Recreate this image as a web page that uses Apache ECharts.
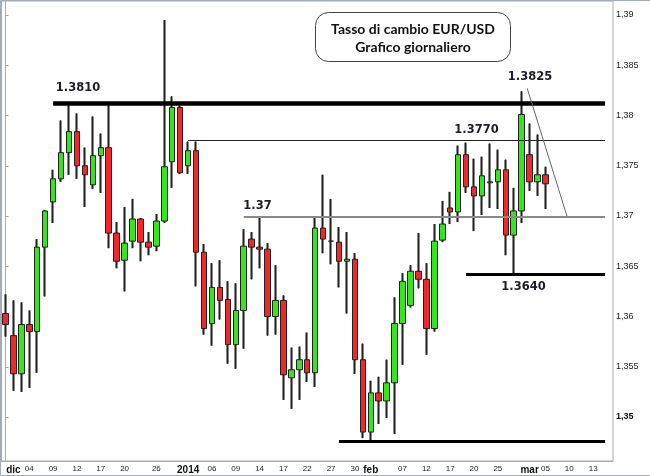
<!DOCTYPE html>
<html>
<head>
<meta charset="utf-8">
<script src="https://cdn.jsdelivr.net/npm/echarts@6/dist/echarts.min.js"></script>
<style>
  html, body { margin: 0; padding: 0; background: #fff; }
  #chart { width: 650px; height: 476px; }
</style>
</head>
<body>
<div id="chart"></div>
<script>
// giorni di contrattazione (forex: tutti i giorni feriali)
const dates = [
  '2013-11-29',
  '2013-12-02', '2013-12-03', '2013-12-04', '2013-12-05', '2013-12-06',
  '2013-12-09', '2013-12-10', '2013-12-11', '2013-12-12', '2013-12-13',
  '2013-12-16', '2013-12-17', '2013-12-18', '2013-12-19', '2013-12-20',
  '2013-12-23', '2013-12-24', '2013-12-25', '2013-12-26', '2013-12-27',
  '2013-12-30', '2013-12-31', '2014-01-01', '2014-01-02', '2014-01-03',
  '2014-01-06', '2014-01-07', '2014-01-08', '2014-01-09', '2014-01-10',
  '2014-01-13', '2014-01-14', '2014-01-15', '2014-01-16', '2014-01-17',
  '2014-01-20', '2014-01-21', '2014-01-22', '2014-01-23', '2014-01-24',
  '2014-01-27', '2014-01-28', '2014-01-29', '2014-01-30', '2014-01-31',
  '2014-02-03', '2014-02-04', '2014-02-05', '2014-02-06', '2014-02-07',
  '2014-02-10', '2014-02-11', '2014-02-12', '2014-02-13', '2014-02-14',
  '2014-02-17', '2014-02-18', '2014-02-19', '2014-02-20', '2014-02-21',
  '2014-02-24', '2014-02-25', '2014-02-26', '2014-02-27', '2014-02-28',
  '2014-03-03', '2014-03-04', '2014-03-05', '2014-03-06', '2014-03-07',
  '2014-03-10', '2014-03-11', '2014-03-12', '2014-03-13', '2014-03-14',
  '2014-03-17'
]

const open = [
  1.3603, 1.3581, 1.3543, 1.3592, 1.3585, 1.3669, 1.3714, 1.3737, 1.3763, 1.3784,
  1.3750, 1.3731, 1.3760, 1.3768, 1.3683, 1.3656, 1.3675, 1.3697, 1.3674, 1.3670,
  1.3695, 1.3754, 1.3808, 1.3750, 1.3765, 1.3664, 1.3593, 1.3629, 1.3617, 1.3572,
  1.3606, 1.3677, 1.3669, 1.3667, 1.3600, 1.3616, 1.3539, 1.3547, 1.3557, 1.3544,
  1.3688, 1.3675, 1.3674, 1.3655, 1.3657, 1.3557, 1.3485, 1.3524, 1.3516, 1.3534,
  1.3593, 1.3611, 1.3645, 1.3637, 1.3588, 1.3676, 1.3708, 1.3704, 1.3761, 1.3729,
  1.3720, 1.3733, 1.3734, 1.3746, 1.3681, 1.3705, 1.3761, 1.3734, 1.3741
]
const close = [
  1.3592, 1.3543, 1.3592, 1.3585, 1.3669, 1.3705, 1.3737, 1.3763, 1.3784, 1.3750,
  1.3741, 1.3760, 1.3768, 1.3683, 1.3655, 1.3673, 1.3697, 1.3674, 1.3669, 1.3695,
  1.3749, 1.3808, 1.3743, 1.3765, 1.3664, 1.3588, 1.3629, 1.3616, 1.3572, 1.3606,
  1.3670, 1.3669, 1.3667, 1.3600, 1.3616, 1.3542, 1.3547, 1.3557, 1.3544, 1.3688,
  1.3677, 1.3675, 1.3655, 1.3657, 1.3557, 1.3485, 1.3524, 1.3516, 1.3534, 1.3593,
  1.3635, 1.3645, 1.3637, 1.3588, 1.3675, 1.3692, 1.3704, 1.3761, 1.3729, 1.3720,
  1.3740, 1.3734, 1.3746, 1.3681, 1.3705, 1.3801, 1.3734, 1.3741, 1.3732
]
const low = [
  1.3580, 1.3526, 1.3525, 1.3529, 1.3544, 1.3620, 1.3693, 1.3734, 1.3741, 1.3737,
  1.3709, 1.3727, 1.3723, 1.3668, 1.3648, 1.3625, 1.3668, 1.3655, 1.3661, 1.3665,
  1.3693, 1.3728, 1.3742, 1.3742, 1.3630, 1.3582, 1.3571, 1.3597, 1.3553, 1.3548,
  1.3568, 1.3637, 1.3648, 1.3581, 1.3582, 1.3517, 1.3508, 1.3517, 1.3535, 1.3530,
  1.3663, 1.3652, 1.3629, 1.3603, 1.3543, 1.3479, 1.3476, 1.3493, 1.3499, 1.3483,
  1.3552, 1.3609, 1.3628, 1.3562, 1.3585, 1.3674, 1.3692, 1.3694, 1.3723, 1.3685,
  1.3701, 1.3708, 1.3707, 1.3661, 1.3642, 1.3693, 1.3725, 1.3720, 1.3707
]
const high = [
  1.3622, 1.3616, 1.3614, 1.3606, 1.3677, 1.3706, 1.3746, 1.3795, 1.3810, 1.3802,
  1.3768, 1.3799, 1.3782, 1.3810, 1.3694, 1.3709, 1.3717, 1.3698, 1.3684, 1.3702,
  1.3895, 1.3819, 1.3810, 1.3774, 1.3774, 1.3672, 1.3653, 1.3656, 1.3635, 1.3633,
  1.3687, 1.3684, 1.3698, 1.3673, 1.3651, 1.3621, 1.3569, 1.3570, 1.3584, 1.3698,
  1.3741, 1.3717, 1.3689, 1.3684, 1.3663, 1.3573, 1.3536, 1.3540, 1.3557, 1.3619,
  1.3643, 1.3651, 1.3683, 1.3653, 1.3692, 1.3715, 1.3724, 1.3770, 1.3773, 1.3757,
  1.3759, 1.3772, 1.3766, 1.3756, 1.3728, 1.3824, 1.3792, 1.3781, 1.3749
]

// etichette dell'asse delle date
const tickLabels = {
  '2013-12-02': 'dic', '2013-12-04': '04', '2013-12-09': '09', '2013-12-12': '12',
  '2013-12-17': '17', '2013-12-20': '20', '2013-12-26': '26', '2014-01-01': '2014',
  '2014-01-06': '06', '2014-01-09': '09', '2014-01-14': '14', '2014-01-17': '17',
  '2014-01-22': '22', '2014-01-27': '27', '2014-01-30': '30', '2014-02-03': 'feb',
  '2014-02-07': '07', '2014-02-12': '12', '2014-02-17': '17', '2014-02-20': '20',
  '2014-02-25': '25', '2014-03-03': 'mar', '2014-03-05': '05', '2014-03-10': '10',
  '2014-03-13': '13'
}
const boldLabels = ['dic', '2014', 'feb', 'mar']

// livelli disegnati sul grafico (supporti / resistenze)
const levelValue = [1.3812, 1.3775, 1.3699, 1.3642, 1.3476]
const levelFrom = ['2013-12-09', '2014-01-01', '2014-01-10', '2014-02-19', '2014-01-28']
// trendline ribassista dal massimo
const trendFrom = [65.7, 1.3827]
const trendTo = [70.7, 1.3700]

const GREEN = '#35e61c'
const RED = '#f3262a'
const FRAME = '#a4acb4'

const ohlc = open.map((o, i) => [o, close[i], low[i], high[i]])

const levelStyles = [
  { color: '#000', width: 4.5 },
  { color: '#222', width: 1 },
  { color: '#8a8a8a', width: 2 },
  { color: '#000', width: 3 },
  { color: '#000', width: 3 }
]
const levelLines = levelValue.map((v, i) => [
  { coord: [dates.indexOf(levelFrom[i]), v], lineStyle: { color: levelStyles[i].color, width: levelStyles[i].width, type: 'solid' } },
  { coord: [75.5, v] }
])
levelLines.push([
  { coord: trendFrom, lineStyle: { color: '#666', width: 1, type: 'solid' } },
  { coord: trendTo }
])

const chart = echarts.init(document.getElementById('chart'), null, { renderer: 'canvas' })

const option = {
  animation: false,
  backgroundColor: '#fff',
  textStyle: { fontFamily: 'Liberation Sans' },
  grid: {
    left: 1.5, right: 37, top: 1, bottom: 15,
    show: true, borderColor: FRAME, borderWidth: 1
  },
  xAxis: [
    {
      type: 'category',
      data: dates,
      boundaryGap: true,
      axisLine: { lineStyle: { color: FRAME } },
      axisTick: {
        alignWithLabel: true,
        inside: true,
        length: 3,
        interval: (i, v) => v in tickLabels,
        lineStyle: { color: '#9aa2aa' }
      },
      axisLabel: {
        interval: (i, v) => v in tickLabels,
        margin: 4,
        fontSize: 8,
        color: '#222',
        formatter: v => {
          const t = tickLabels[v] || ''
          return boldLabels.includes(t) ? '{b|' + t + '}' : t
        },
        rich: {
          b: { fontSize: 10, fontWeight: 'bold', color: '#111', fontFamily: 'Liberation Sans' }
        }
      },
      splitLine: { show: false }
    },
    {
      // asse nascosto per le linee disegnate a mano
      type: 'value',
      min: -0.5,
      max: dates.length - 0.5,
      show: false
    }
  ],
  yAxis: {
    type: 'value',
    position: 'right',
    min: 1.345622,
    max: 1.391393,
    splitNumber: 9,
    scale: true,
    axisLine: { show: true, lineStyle: { color: FRAME } },
    axisTick: { show: true, inside: false, length: 3, lineStyle: { color: '#9aa2aa' } },
    splitLine: { show: false },
    axisLabel: {
      margin: 3,
      fontSize: 9,
      color: '#222',
      showMinLabel: false,
      showMaxLabel: false,
      formatter: v => {
        const s = v.toFixed(3).replace(/0$/, '').replace('.', ',')
        return Math.abs(v - 1.35) < 1e-9 ? '{b|' + s + '}' : s
      },
      rich: {
        b: { fontSize: 9, fontWeight: 'bold', color: '#111', fontFamily: 'Liberation Sans' }
      }
    }
  },
  series: [
    {
      // ombre (stoppini) più spesse
      type: 'candlestick',
      data: ohlc,
      barWidth: 1,
      silent: true,
      itemStyle: {
        color: '#111', color0: '#111',
        borderColor: '#111', borderColor0: '#111',
        borderWidth: 2
      }
    },
    {
      type: 'candlestick',
      data: ohlc,
      barWidth: 6,
      itemStyle: {
        color: GREEN, color0: RED,
        borderColor: '#222', borderColor0: '#222',
        borderWidth: 1
      }
    },
    {
      type: 'line',
      xAxisIndex: 1,
      data: [],
      silent: true,
      markLine: {
        silent: true,
        symbol: ['none', 'none'],
        label: { show: false },
        data: levelLines
      }
    }
  ],
  graphic: [
    {
      type: 'rect',
      silent: true,
      shape: { x: 0.5, y: 0.5, width: 700, height: 475 },
      style: { fill: null, stroke: FRAME, lineWidth: 1 }
    },
    {
      type: 'group',
      left: 315, top: 12,
      children: [
        {
          type: 'rect',
          shape: { x: 0, y: 0, width: 195, height: 49, r: 13 },
          style: { fill: '#fff', stroke: '#444', lineWidth: 1 }
        },
        {
          type: 'text',
          x: 97.5, y: 17,
          style: {
            text: 'Tasso di cambio EUR/USD',
            fill: '#111', font: 'bold 14px Lato',
            align: 'center', verticalAlign: 'middle'
          }
        },
        {
          type: 'text',
          x: 97.5, y: 35,
          style: {
            text: 'Grafico giornaliero',
            fill: '#111', font: 'bold 14px Lato',
            align: 'center', verticalAlign: 'middle'
          }
        }
      ]
    },
    ...[
      ['1.3810', 78, 88],
      ['1.37', 257.5, 206],
      ['1.3770', 476.5, 130],
      ['1.3825', 530, 77],
      ['1.3640', 523.5, 287]
    ].map(([t, x, y]) => ({
      type: 'text',
      x: x, y: y,
      silent: true,
      style: {
        text: t,
        fill: '#1c1c28',
        font: 'bold 11.5px "DejaVu Sans"',
        align: 'center', verticalAlign: 'middle'
      }
    }))
  ]
}

chart.setOption(option)
</script>
</body>
</html>
